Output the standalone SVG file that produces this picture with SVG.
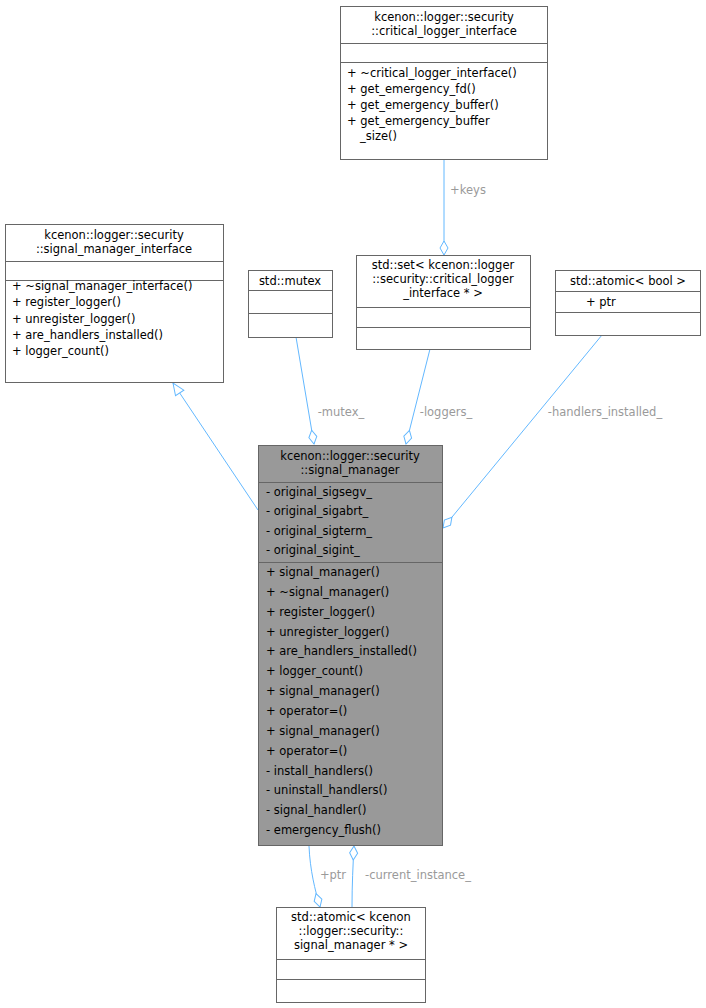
<svg xmlns="http://www.w3.org/2000/svg" width="706" height="1008" viewBox="0 0 706 1008">
<style>
.b{fill:#fff;stroke:#666;stroke-width:1}
.m{fill:#999;stroke:#666;stroke-width:1}
.l{stroke:#666;stroke-width:1}
text{font-family:"DejaVu Sans",sans-serif;font-size:11.5px;fill:#000}
.c{text-anchor:middle}
.e{fill:none;stroke:#63b8ff;stroke-width:1}
.t{fill:#9a9a9a;text-anchor:middle}
</style>
<defs>
<marker id="dia" markerWidth="16" markerHeight="10" refX="15" refY="5" orient="auto" markerUnits="userSpaceOnUse"><path d="M1,5 L8,1 L15,5 L8,9 Z" fill="#fff" stroke="#63b8ff"/></marker>
<marker id="tri" markerWidth="14" markerHeight="12" refX="13" refY="6" orient="auto" markerUnits="userSpaceOnUse"><path d="M1,1 L13,6 L1,11 Z" fill="#fff" stroke="#63b8ff"/></marker>
</defs>
<g id="edges">
<path class="e" d="M258,510 L173,383" marker-end="url(#tri)"/>
<path class="e" d="M296,337 L314,444" marker-end="url(#dia)"/>
<text class="t" x="341" y="416">-mutex_</text>
<path class="e" d="M430,349 L406,444" marker-end="url(#dia)"/>
<text class="t" x="446" y="416">-loggers_</text>
<path class="e" d="M602,335 L443,528" marker-end="url(#dia)"/>
<text class="t" x="605" y="416">-handlers_installed_</text>
<path class="e" d="M444,160 L444,255" marker-end="url(#dia)"/>
<text class="t" x="468" y="194">+keys</text>
<path class="e" d="M309,846 C310,870 315,890 320,907" marker-end="url(#dia)"/>
<text class="t" x="333" y="879">+ptr</text>
<path class="e" d="M352,907 C352,885 353,865 354,846" marker-end="url(#dia)"/>
<text class="t" x="418" y="879">-current_instance_</text>
</g>
<g id="critical_logger_interface">
<rect class="b" x="340.5" y="6.5" width="207" height="153"/>
<text class="c" x="444" y="21">kcenon::logger::security</text>
<text class="c" x="444" y="35">::critical_logger_interface</text>
<line class="l" x1="340.5" y1="43.5" x2="547.5" y2="43.5"/>
<line class="l" x1="340.5" y1="62.5" x2="547.5" y2="62.5"/>
<text x="347" y="77">+  ~critical_logger_interface()</text>
<text x="347" y="93">+  get_emergency_fd()</text>
<text x="347" y="109">+  get_emergency_buffer()</text>
<text x="347" y="125">+  get_emergency_buffer</text>
<text x="360" y="140">_size()</text>
</g>
<g id="signal_manager_interface">
<rect class="b" x="5.5" y="224.5" width="218" height="158"/>
<text class="c" x="114" y="239">kcenon::logger::security</text>
<text class="c" x="114" y="253">::signal_manager_interface</text>
<line class="l" x1="5.5" y1="261.5" x2="223.5" y2="261.5"/>
<line class="l" x1="5.5" y1="280.5" x2="223.5" y2="280.5"/>
<text x="12" y="290">+  ~signal_manager_interface()</text>
<text x="12" y="306">+  register_logger()</text>
<text x="12" y="323">+  unregister_logger()</text>
<text x="12" y="339">+  are_handlers_installed()</text>
<text x="12" y="355">+  logger_count()</text>
</g>
<g id="mutex">
<rect class="b" x="248.5" y="270.5" width="84" height="67"/>
<text class="c" x="290" y="285">std::mutex</text>
<line class="l" x1="248.5" y1="290.5" x2="332.5" y2="290.5"/>
<line class="l" x1="248.5" y1="313.5" x2="332.5" y2="313.5"/>
</g>
<g id="set">
<rect class="b" x="356.5" y="255.5" width="174" height="94"/>
<text class="c" x="443" y="269">std::set&lt; kcenon::logger</text>
<text class="c" x="443" y="283">::security::critical_logger</text>
<text class="c" x="443" y="297">_interface * &gt;</text>
<line class="l" x1="356.5" y1="307.5" x2="530.5" y2="307.5"/>
<line class="l" x1="356.5" y1="327.5" x2="530.5" y2="327.5"/>
</g>
<g id="atomic_bool">
<rect class="b" x="555.5" y="270.5" width="145" height="65"/>
<text class="c" x="628" y="285">std::atomic&lt; bool &gt;</text>
<line class="l" x1="555.5" y1="291.5" x2="700.5" y2="291.5"/>
<text x="586" y="306">+        ptr</text>
<line class="l" x1="555.5" y1="312.5" x2="700.5" y2="312.5"/>
</g>
<g id="signal_manager">
<rect class="m" x="258.5" y="445.5" width="184" height="400"/>
<text class="c" x="350" y="460">kcenon::logger::security</text>
<text class="c" x="350" y="474">::signal_manager</text>
<line class="l" x1="258.5" y1="482.5" x2="442.5" y2="482.5"/>
<text x="266" y="496">-  original_sigsegv_</text>
<text x="266" y="515">-  original_sigabrt_</text>
<text x="266" y="535">-  original_sigterm_</text>
<text x="266" y="554">-  original_sigint_</text>
<line class="l" x1="258.5" y1="562.5" x2="442.5" y2="562.5"/>
<text x="266" y="576">+  signal_manager()</text>
<text x="266" y="596">+  ~signal_manager()</text>
<text x="266" y="616">+  register_logger()</text>
<text x="266" y="636">+  unregister_logger()</text>
<text x="266" y="655">+  are_handlers_installed()</text>
<text x="266" y="675">+  logger_count()</text>
<text x="266" y="695">+  signal_manager()</text>
<text x="266" y="715">+  operator=()</text>
<text x="266" y="735">+  signal_manager()</text>
<text x="266" y="755">+  operator=()</text>
<text x="266" y="775">-  install_handlers()</text>
<text x="266" y="794">-  uninstall_handlers()</text>
<text x="266" y="814">-  signal_handler()</text>
<text x="266" y="834">-  emergency_flush()</text>
</g>
<g id="atomic_signal_manager">
<rect class="b" x="276.5" y="907.5" width="149" height="95"/>
<text class="c" x="351" y="921">std::atomic&lt; kcenon</text>
<text class="c" x="351" y="935">::logger::security::</text>
<text class="c" x="351" y="949">signal_manager * &gt;</text>
<line class="l" x1="276.5" y1="959.5" x2="425.5" y2="959.5"/>
<line class="l" x1="276.5" y1="979.5" x2="425.5" y2="979.5"/>
</g>
</svg>
